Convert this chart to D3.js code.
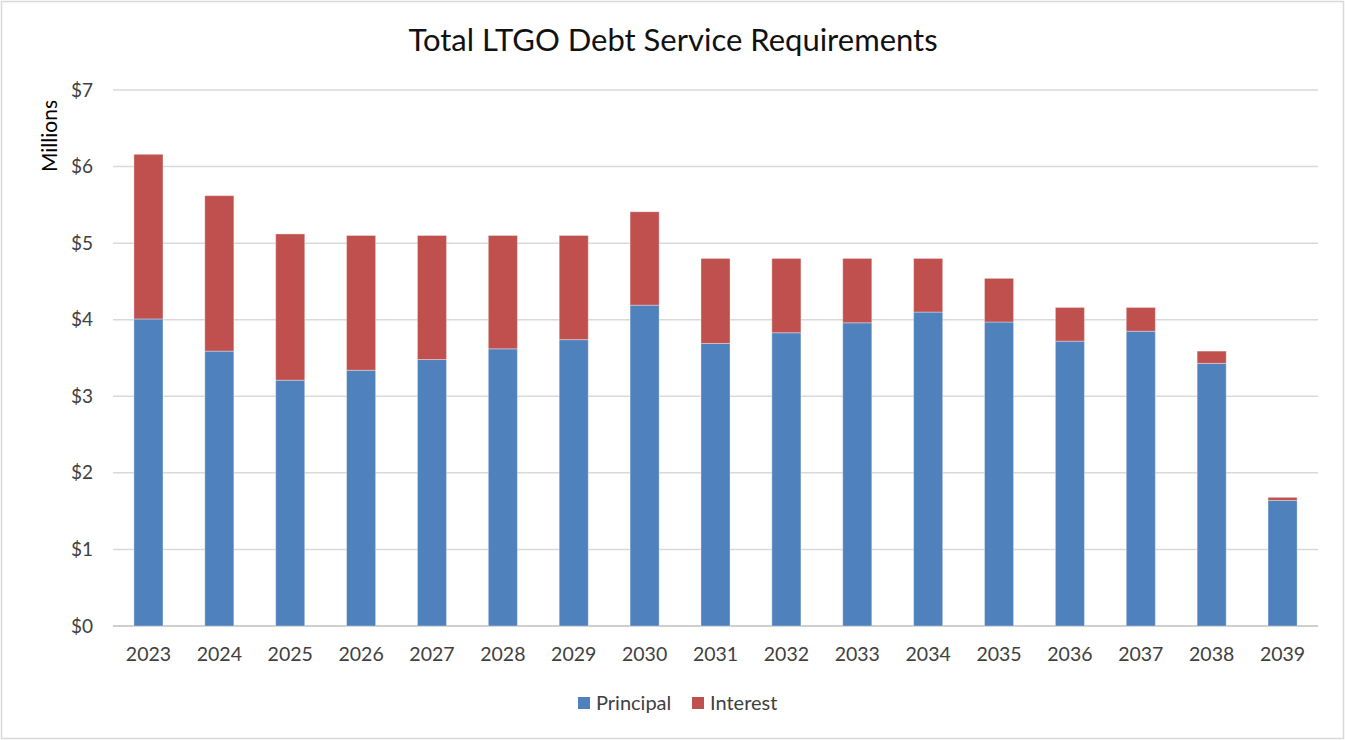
<!DOCTYPE html>
<html>
<head>
<meta charset="utf-8">
<script src="https://cdn.jsdelivr.net/npm/d3@7"></script>
<style>
  body { margin: 0; background: #fff; }
  text { font-family: Lato, "Open Sans", sans-serif; fill: #404040; }
</style>
</head>
<body>
<script>
var years = ["2023","2024","2025","2026","2027","2028","2029","2030","2031","2032","2033","2034","2035","2036","2037","2038","2039"];
var principal = [4.01, 3.59, 3.21, 3.34, 3.48, 3.62, 3.74, 4.19, 3.69, 3.83, 3.96, 4.10, 3.97, 3.72, 3.85, 3.43, 1.64];
var interest  = [2.15, 2.03, 1.91, 1.76, 1.62, 1.48, 1.36, 1.22, 1.11, 0.97, 0.84, 0.70, 0.57, 0.44, 0.31, 0.16, 0.04];
var seriesNames = ["Principal", "Interest"];
var colors = ["#4F81BD", "#C0504D"];
var yTicks = [0, 1, 2, 3, 4, 5, 6, 7];

var width = 1345, height = 740;
var margin = { left: 113, right: 27, top: 90, bottom: 114 };

var svg = d3.select("body").append("svg")
  .attr("width", width)
  .attr("height", height);

// chart frame
svg.append("rect")
  .attr("x", 1.5).attr("y", 1.5)
  .attr("width", width - 3).attr("height", height - 3)
  .attr("fill", "#fff")
  .attr("stroke", "#d9d9d9")
  .attr("stroke-width", 1.5);

var x = d3.scaleBand()
  .domain(years)
  .range([margin.left, width - margin.right])
  .paddingInner(0.59)
  .paddingOuter(0.295);

var y = d3.scaleLinear()
  .domain([0, 7])
  .range([height - margin.bottom, margin.top]);

// gridlines
svg.append("g")
  .selectAll("line")
  .data(yTicks)
  .enter()
  .append("line")
  .attr("x1", margin.left)
  .attr("x2", width - margin.right)
  .attr("y1", function(d) { return y(d); })
  .attr("y2", function(d) { return y(d); })
  .attr("stroke", function(d) { return d === 0 ? "#bfbfbf" : "#d9d9d9"; })
  .attr("stroke-width", 1.5);

// y labels
var yAxis = d3.axisLeft(y)
  .tickValues(yTicks)
  .tickSize(0)
  .tickPadding(0)
  .tickFormat(function(d) { return "$" + d; });

var gy = svg.append("g")
  .attr("transform", "translate(" + (margin.left - 20) + ",0)")
  .call(yAxis);
gy.select(".domain").remove();
gy.selectAll("text")
  .style("font-size", "19px")
  .attr("fill", "#404040");

// x labels
var xAxis = d3.axisBottom(x).tickSize(0).tickPadding(0);
var gx = svg.append("g")
  .attr("transform", "translate(0," + (height - margin.bottom + 21) + ")")
  .call(xAxis);
gx.select(".domain").remove();
gx.selectAll("text")
  .style("font-size", "19.5px")
  .attr("fill", "#404040");

// stacked bars
var rows = years.map(function(yr, i) {
  return { year: yr, Principal: principal[i], Interest: interest[i] };
});
var stack = d3.stack().keys(seriesNames)(rows);

svg.append("g")
  .selectAll("g")
  .data(stack)
  .enter()
  .append("g")
  .attr("fill", function(d, i) { return colors[i]; })
  .selectAll("rect")
  .data(function(d) { return d; })
  .enter()
  .append("rect")
  .attr("x", function(d) { return x(d.data.year); })
  .attr("width", x.bandwidth())
  .attr("y", function(d) { return y(d[1]); })
  .attr("height", function(d) { return y(d[0]) - y(d[1]); })
  .attr("stroke", "#ffffff")
  .attr("stroke-opacity", 0.35)
  .attr("stroke-width", 1);

// title
svg.append("text")
  .attr("x", 673)
  .attr("y", 51)
  .attr("text-anchor", "middle")
  .style("font-size", "31px")
  .style("fill", "#111")
  .text("Total LTGO Debt Service Requirements");

// y title
svg.append("text")
  .attr("transform", "translate(57,136) rotate(-90)")
  .attr("text-anchor", "middle")
  .style("font-size", "21px")
  .style("fill", "#000")
  .text("Millions");

// legend
var legendX = [578, 692];
var legend = svg.append("g");
seriesNames.forEach(function(name, i) {
  legend.append("rect")
    .attr("x", legendX[i])
    .attr("y", 697)
    .attr("width", 12)
    .attr("height", 12)
    .attr("fill", colors[i]);
  legend.append("text")
    .attr("x", legendX[i] + 18)
    .attr("y", 710)
    .style("font-size", "20px")
    .text(name);
});
</script>
</body>
</html>
